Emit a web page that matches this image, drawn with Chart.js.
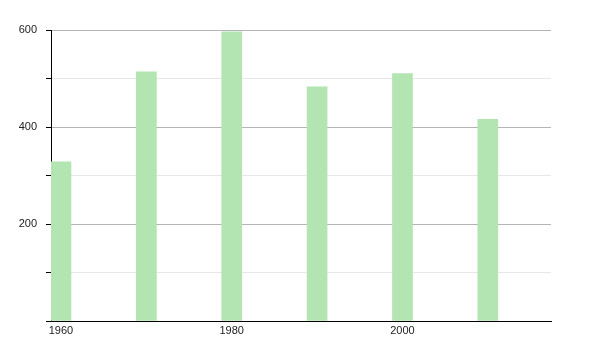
<!DOCTYPE html>
<html>
<head>
<meta charset="utf-8">
<script src="https://cdn.jsdelivr.net/npm/chart.js@4"></script>
<style>
  html, body { margin: 0; padding: 0; background: #fff; }
  #wrap { width: 600px; height: 350px; }
</style>
</head>
<body>
<div id="wrap"><canvas id="chart"></canvas></div>
<script>
const years      = [1960, 1970, 1980, 1990, 2000, 2010];
const values     = [328, 514, 596, 483, 510, 416];
const xTickYears = [1960, 1980, 2000];
const yLabelled  = [200, 400, 600];

const ctx = document.getElementById('chart').getContext('2d');
new Chart(ctx, {
  type: 'bar',
  data: {
    datasets: [{
      data: years.map((y, i) => ({ x: y, y: values[i] })),
      backgroundColor: '#b2e5b1',
      borderWidth: 0,
      barThickness: 20
    }]
  },
  options: {
    responsive: true,
    maintainAspectRatio: false,
    animation: false,
    layout: { padding: { left: 11, right: 49, top: 30, bottom: 0 } },
    plugins: { legend: { display: false }, tooltip: { enabled: false } },
    scales: {
      x: {
        type: 'linear',
        offset: false,
        min: 1958.83,
        max: 2017.4,
        afterBuildTicks: scale => { scale.ticks = xTickYears.map(v => ({ value: v })); },
        afterFit: scale => { scale.height = 29; },
        grid: { display: false, drawTicks: false },
        border: { display: true, color: '#000', width: 1 },
        ticks: {
          color: '#222',
          font: { family: 'Liberation Sans', size: 11 },
          padding: 3,
          maxRotation: 0,
          callback: v => String(v)
        }
      },
      y: {
        min: 0,
        max: 600,
        afterFit: scale => { scale.width = 40; },
        ticks: {
          stepSize: 100,
          color: '#222',
          font: { family: 'Liberation Sans', size: 11 },
          padding: 9,
          callback: v => yLabelled.includes(v) ? String(v) : ''
        },
        grid: {
          color: c => (c.tick && c.tick.value % 200 === 0) ? '#b4b4b4' : '#e8e8e8',
          tickColor: '#000',
          tickLength: 5,
          lineWidth: 1
        },
        border: { display: true, color: '#000', width: 1 }
      }
    }
  }
});
</script>
</body>
</html>
